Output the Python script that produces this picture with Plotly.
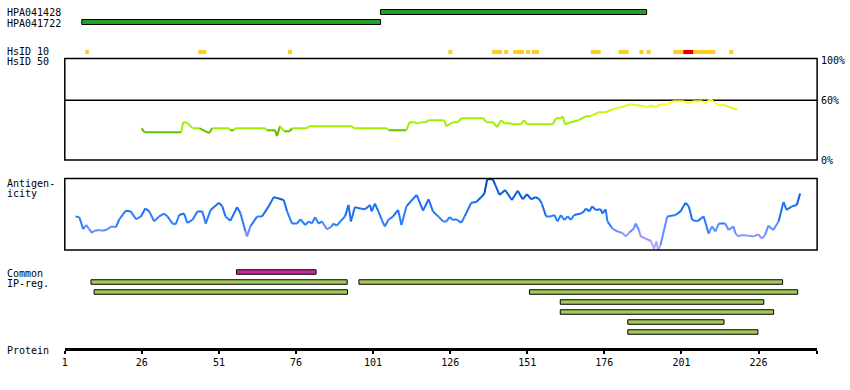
import plotly.graph_objects as go

# ---------------- data ----------------
protein_len = 245
tick_vals = [1, 26, 51, 76, 101, 126, 151, 176, 201, 226]

hpa_names = ["HPA041428", "HPA041722"]
hpa_start = [103.4, 6.5]
hpa_end = [189.7, 103.4]

hsid10_start = [7.6, 44.3, 73.4, 125.4, 139.6, 143.5, 146.4, 150.6, 152.5, 171.6,
                180.6, 187.4, 189.7, 198.4, 201.6, 204.9, 216.5]
hsid10_end = [8.8, 46.9, 74.7, 126.7, 142.8, 144.8, 149.9, 151.9, 154.8, 174.8,
              183.9, 188.7, 191.0, 201.6, 204.9, 212.0, 217.8]
hsid10_high = [False] * 14 + [True] + [False] * 2

hs_pos = [25.9, 26.8, 38.8, 39.4, 40.7, 42.4, 44.6, 47.8, 48.8, 54.3, 54.6, 55.9, 56.3,
          65.9, 66.6, 69.2, 69.8, 70.8, 72.1, 74.0, 74.7, 79.5, 80.2, 94.1, 94.7, 105.4,
          106.0, 111.8, 112.8, 114.4, 115.1, 116.0, 116.7, 118.3, 118.9, 124.1, 124.7,
          127.0, 128.6, 129.6, 136.7, 137.7, 139.9, 141.2, 142.5, 143.5, 145.1, 146.4,
          149.0, 150.0, 150.9, 159.3, 160.3, 161.9, 162.5, 163.2, 165.1, 167.7, 170.0,
          171.6, 174.2, 176.4, 178.7, 181.3, 184.5, 189.4, 190.0, 191.0, 192.6, 194.2,
          196.5, 198.1, 201.6, 203.3, 204.9, 207.8, 208.8, 210.4, 212.0, 213.0, 215.2,
          216.8, 218.4, 219.1]
hs_pct = [32, 28, 28, 38, 37.5, 32, 32, 27, 32, 32, 30, 30, 32, 32, 30, 30, 24, 34, 29, 29,
          32, 32, 34, 34, 32, 32, 30, 30, 38, 38, 37, 37, 38, 38, 40, 40, 34, 38, 38, 42,
          42, 38, 38, 33, 40, 37, 37, 36, 36, 40, 36, 36, 42, 42, 44, 36, 38, 40, 44, 44,
          48, 48, 51, 53, 56, 54, 53, 55, 53, 56, 56, 59, 59, 57, 59, 59, 57, 61, 57, 55,
          55, 53, 51, 51]

ag_pos = [4.5, 5.7, 7.0, 7.9, 8.8, 9.8, 10.6, 12.2, 13.3, 14.9, 16.0, 17.6, 18.7, 20.8, 22.4,
          24.1, 25.7, 27.1, 28.4, 30.0, 31.6, 33.2, 34.3, 35.9, 37.0, 38.1, 39.7, 40.7, 42.4,
          44.0, 45.6, 46.7, 48.3, 51.0, 52.1, 53.1, 54.7, 56.9, 58.0, 59.6, 60.1, 61.2, 63.4,
          65.0, 67.1, 68.8, 70.4, 72.0, 73.1, 74.7, 76.3, 77.4, 79.0, 80.1, 81.1, 82.2, 83.3,
          84.4, 86.0, 87.6, 88.1, 89.2, 90.8, 91.9, 93.0, 93.8, 95.1, 96.8, 98.4, 100.0, 100.5,
          101.6, 102.7, 103.8, 104.8, 105.9, 107.5, 109.1, 110.2, 111.8, 115.1, 117.2,
          119.0, 120.4, 122.1, 123.7, 124.8, 125.8, 126.9, 128.0, 129.6, 130.7, 132.8, 134.4,
          136.1, 137.1, 138.0, 139.8, 140.6, 142.0, 143.8, 146.0, 147.9, 149.5, 150.9, 152.2,
          153.8, 154.9, 155.7, 157.1, 158.7, 159.8, 160.8, 161.9, 163.0, 164.1, 165.1, 166.2,
          168.4, 169.4, 170.0, 171.1, 172.1, 173.2, 174.8, 175.4, 176.4, 177.0, 178.6, 180.2,
          181.8, 182.9, 184.0, 185.6, 186.1, 187.2, 187.8, 189.4, 191.0, 192.1, 192.9, 193.4,
          194.2, 196.4, 199.1, 200.7, 202.3, 203.4, 204.5, 206.1, 208.2, 209.8, 210.9, 212.0,
          213.1, 215.2, 216.3, 217.9, 218.5, 219.5, 220.6, 222.8, 224.4, 226.0, 227.1, 228.1,
          229.2, 230.8, 232.5, 234.1, 235.1, 236.8, 238.4, 239.5]
ag_val = [47, 46, 29, 35, 30, 24, 27, 28, 27, 29, 33, 32, 43, 55, 54, 43, 47, 58, 54, 40,
          47, 51, 47, 37, 36, 49, 51, 38, 42, 54, 54, 37, 56, 66, 61, 47, 41, 60, 51, 26,
          19, 33, 47, 47, 61, 74, 72, 70, 54, 37, 37, 43, 35, 40, 37, 46, 37, 40, 29, 33,
          37, 34, 42, 47, 63, 40, 60, 58, 57, 63, 54, 65, 54, 42, 33, 42, 47, 56, 35, 61,
          77, 55,
          71, 54, 47, 40, 40, 46, 42, 43, 38, 47, 66, 67, 74, 79, 99, 99, 91, 77, 84, 70,
          83, 71, 78, 71, 74, 71, 65, 47, 47, 49, 40, 49, 42, 47, 42, 49, 51, 54, 58, 54,
          61, 56, 57, 51, 57, 40, 30, 26, 24, 19, 24, 30, 37, 28, 19, 16, 13, 2, 12, 0,
          7, 47, 49, 54, 66, 61, 42, 40, 47, 23, 33, 26, 37, 37, 28, 33, 23, 19, 21, 20,
          19, 22, 16, 21, 34, 28, 40, 67, 56, 61, 63, 79]

ip_start = [56.7, 9.5, 96.4, 10.5, 151.7, 161.7, 161.7, 183.6, 183.6]
ip_end = [82.5, 92.6, 233.8, 92.7, 238.7, 227.7, 230.9, 214.8, 225.8]
ip_row = [0, 1, 1, 2, 2, 3, 4, 5, 6]
ip_common = [True, False, False, False, False, False, False, False, False]

# ---------------- styling ----------------
W, H = 850, 390
X0, X1 = 62, 817
FONT = "DejaVu Sans Mono"


def py(p):
    return 1 - p / H


def dom(top, bottom):
    return [py(bottom), py(top)]


hs_bins = [(0, 31, "#66bf00"), (31, 44.5, "#9ef000"), (44.5, 50, "#c6f212"),
           (50, 56, "#e8f824"), (56, 101, "#ffff22")]
ag_bins = [(0, 12, "#b4a2ff"), (12, 25, "#8d92ff"), (25, 35, "#5f8cff"),
           (35, 50, "#2a7cff"), (50, 70, "#1a6ff2"), (70, 88, "#0a60dc"),
           (88, 101, "#0050c0")]


def binned_traces(xs, ys, bins, yaxis):
    out = []
    for lo, hi, col in bins:
        bx, by = [], []
        for i in range(len(xs) - 1):
            m = (ys[i] + ys[i + 1]) / 2
            if lo <= m < hi:
                bx += [xs[i], xs[i + 1], None]
                by += [ys[i], ys[i + 1], None]
        if bx:
            out.append(go.Scatter(x=bx, y=by, mode="lines", yaxis=yaxis,
                                  line=dict(color=col, width=2),
                                  hoverinfo="skip", showlegend=False))
    return out


fig = go.Figure()

# HPA antibody bars
fig.add_trace(go.Bar(orientation="h", y=[0, 1], base=hpa_start,
                     x=[e - s for s, e in zip(hpa_start, hpa_end)],
                     width=0.5, yaxis="y2",
                     marker=dict(color="#23a023", line=dict(color="black", width=1)),
                     showlegend=False, hoverinfo="skip"))

# HsID 10 marks
fig.add_trace(go.Bar(orientation="h", y=[0] * len(hsid10_start), base=hsid10_start,
                     x=[e - s for s, e in zip(hsid10_start, hsid10_end)],
                     width=1, yaxis="y3",
                     marker=dict(color=["#e00000" if h else "#ffcc22" for h in hsid10_high],
                                 line=dict(width=0)),
                     showlegend=False, hoverinfo="skip"))

# HsID 50 line
for t in binned_traces(hs_pos, hs_pct, hs_bins, "y4"):
    fig.add_trace(t)

# Antigenicity line
for t in binned_traces(ag_pos, ag_val, ag_bins, "y5"):
    fig.add_trace(t)

# Common / IP regions
fig.add_trace(go.Bar(orientation="h", y=ip_row, base=ip_start,
                     x=[e - s for s, e in zip(ip_start, ip_end)],
                     width=0.45, yaxis="y6",
                     marker=dict(color=["#c8289e" if c else "#a3c95a" for c in ip_common],
                                 line=dict(color="black", width=1)),
                     showlegend=False, hoverinfo="skip"))

hidden = dict(visible=False, fixedrange=True, anchor="x")
fig.update_layout(
    width=W, height=H, margin=dict(l=0, r=0, t=0, b=0),
    paper_bgcolor="white", plot_bgcolor="white",
    barmode="overlay", showlegend=False,
    font=dict(family=FONT, size=10, color="black"),
    xaxis=dict(domain=[X0 / W, X1 / W], range=[1, protein_len],
               anchor="free", position=py(349),
               showline=True, linewidth=3, linecolor="black",
               ticks="outside", ticklen=3, tickwidth=2, tickcolor="black",
               tickvals=tick_vals + [protein_len],
               ticktext=[str(v) for v in tick_vals] + [""],
               showgrid=False, zeroline=False, fixedrange=True,
               tickfont=dict(family=FONT, size=10, color="black")),
    yaxis=dict(visible=False),
    yaxis2=dict(domain=dom(2, 32), range=[2, -1], **hidden),
    yaxis3=dict(domain=dom(49.7, 54.3), range=[-0.5, 0.5], **hidden),
    yaxis4=dict(domain=dom(58.5, 160), range=[0, 102], **hidden),
    yaxis5=dict(domain=dom(178.5, 250), range=[0, 100], **hidden),
    yaxis6=dict(domain=dom(266, 338), range=[6.6, -0.6], **hidden),
)

# frames and 60% line
for ya in ["y4", "y5"]:
    fig.add_shape(type="rect", xref="x domain", x0=0, x1=1,
                  yref=ya + " domain", y0=0, y1=1,
                  line=dict(color="black", width=1.5), layer="above")
fig.add_shape(type="line", xref="x domain", x0=0, x1=1, yref="y4", y0=60, y1=60,
              line=dict(color="black", width=1.5), layer="below")

labels = [("HPA041428", 13), ("HPA041722", 23), ("HsID 10", 52), ("HsID 50", 62),
          ("Antigen-", 183), ("icity", 193), ("Common", 273), ("IP-reg.", 283),
          ("Protein", 350)]
for txt, yp in labels:
    fig.add_annotation(text=txt, xref="paper", yref="paper", x=2 / W, y=py(yp),
                       xanchor="left", yanchor="middle", showarrow=False,
                       font=dict(family=FONT, size=10, color="black"))

for txt, v in [("100%", 100), ("60%", 60), ("0%", 0)]:
    fig.add_annotation(text=txt, xref="paper", yref="y4", x=819 / W, y=v,
                       xanchor="left", yanchor="middle", showarrow=False,
                       font=dict(family=FONT, size=10, color="black"))

fig.write_html("out.html", config={"displayModeBar": False},
               post_script="document.body.style.margin='0px';"
                           "document.body.style.padding='0px';"
                           "document.body.style.overflow='hidden';")
